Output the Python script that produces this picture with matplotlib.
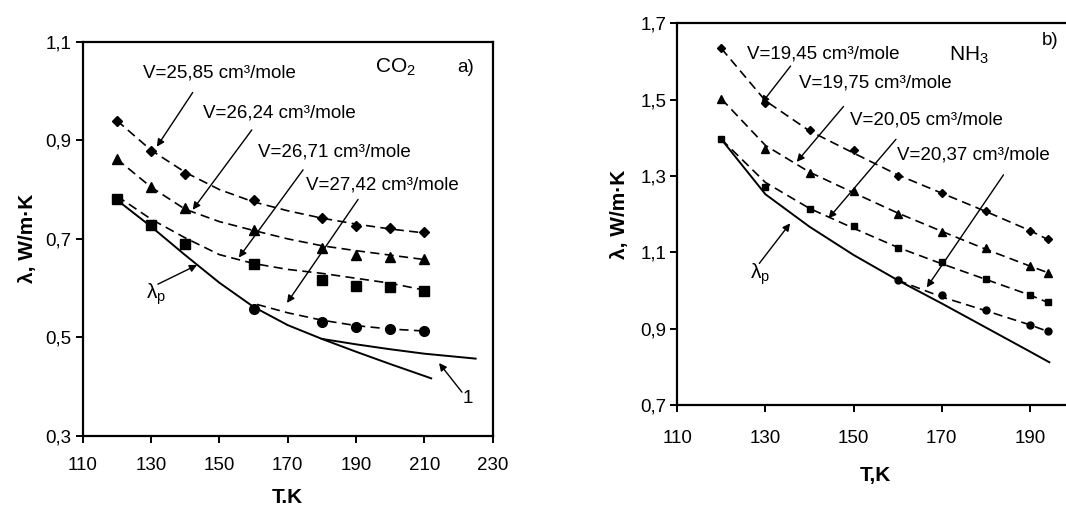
import matplotlib
matplotlib.use("Agg")
import matplotlib.pyplot as plt

plt.rcParams['font.family'] = ['Liberation Sans', 'DejaVu Sans']
plt.rcParams['mathtext.fontset'] = 'custom'
plt.rcParams['mathtext.rm'] = 'Liberation Sans'
plt.rcParams['mathtext.it'] = 'Liberation Sans:italic'

# ---------------- CO2 (panel a) ----------------
T_a = [120, 130, 140, 160, 180, 190, 200, 210]
co2_2585 = [0.940, 0.879, 0.831, 0.779, 0.742, 0.726, 0.721, 0.714]
co2_2624 = [0.863, 0.806, 0.762, 0.718, 0.681, 0.667, 0.664, 0.659]
co2_2671 = [0.780, 0.728, 0.690, 0.648, 0.617, 0.605, 0.602, 0.595]
T_a_c = [160, 180, 190, 200, 210]
co2_2742 = [0.558, 0.532, 0.521, 0.518, 0.513]

Tfit_a = [120, 130, 140, 150, 160, 170, 180, 190, 200, 210]
fit_2585 = [0.940, 0.880, 0.835, 0.800, 0.775, 0.757, 0.742, 0.730, 0.720, 0.712]
fit_2624 = [0.862, 0.805, 0.760, 0.735, 0.717, 0.700, 0.686, 0.676, 0.667, 0.658]
fit_2671 = [0.787, 0.740, 0.702, 0.668, 0.650, 0.638, 0.630, 0.620, 0.610, 0.596]
Tfit_a_c = [161, 170, 180, 190, 200, 210]
fit_2742 = [0.567, 0.550, 0.535, 0.524, 0.517, 0.513]

Tlp_a = [120, 130, 140, 150, 160, 170, 180, 190, 200, 212]
lp_a = [0.779, 0.725, 0.667, 0.611, 0.562, 0.525, 0.497, 0.471, 0.446, 0.417]
T1_a = [180, 190, 200, 210, 225]
line1_a = [0.497, 0.486, 0.476, 0.467, 0.457]

# ---------------- NH3 (panel b) ----------------
T_b = [120, 130, 140, 150, 160, 170, 180, 190, 194]
nh3_1945 = [1.634, 1.492, 1.420, 1.368, 1.301, 1.256, 1.208, 1.157, 1.134]
nh3_1975 = [1.502, 1.370, 1.309, 1.261, 1.200, 1.152, 1.111, 1.065, 1.047]
nh3_2005 = [1.396, 1.272, 1.213, 1.170, 1.111, 1.074, 1.029, 0.988, 0.969]
T_b_c = [160, 170, 180, 190, 194]
nh3_2037 = [1.027, 0.987, 0.949, 0.910, 0.895]

Tfit_b = [120, 130, 140, 150, 160, 170, 180, 190, 194]
fit_1945 = [1.634, 1.497, 1.418, 1.360, 1.303, 1.255, 1.207, 1.157, 1.134]
fit_1975 = [1.502, 1.380, 1.310, 1.256, 1.203, 1.155, 1.108, 1.064, 1.047]
fit_2005 = [1.396, 1.283, 1.215, 1.163, 1.113, 1.070, 1.029, 0.988, 0.969]
Tfit_b_c = [160, 170, 180, 190, 194]
fit_2037 = [1.027, 0.983, 0.947, 0.910, 0.893]

Tlp_b = [120, 130, 140, 150, 160, 170, 180, 190, 194.4]
lp_b = [1.396, 1.252, 1.167, 1.093, 1.027, 0.966, 0.903, 0.840, 0.812]

xt_a = [110, 130, 150, 170, 190, 210, 230]
yt_a = [0.3, 0.5, 0.7, 0.9, 1.1]
yt_a_lbl = ['0,3', '0,5', '0,7', '0,9', '1,1']
xt_b = [110, 130, 150, 170, 190]
yt_b = [0.7, 0.9, 1.1, 1.3, 1.5, 1.7]
yt_b_lbl = ['0,7', '0,9', '1,1', '1,3', '1,5', '1,7']

fig = plt.figure(figsize=(10.66, 5.07), dpi=100)
axA = fig.add_axes([82.7/1066, (507-436)/507, 410/1066, 394.3/507])
axB = fig.add_axes([677.3/1066, (507-405)/507, 90*4.408/1066, 381.7/507])

dash = (0, (5.5, 3.2))
FS = 13.5

def style(ax, xt, yt, ylbl, xlim, ylim, xpad):
    ax.set_xlim(*xlim)
    ax.set_ylim(*ylim)
    ax.set_xticks(xt)
    ax.set_yticks(yt)
    ax.set_yticklabels(ylbl)
    for s in ax.spines.values():
        s.set_linewidth(1.6)
    ax.tick_params(direction='out', length=5, width=1.4, labelsize=FS)
    ax.tick_params(axis='x', pad=xpad)
    ax.tick_params(axis='y', pad=3)

arrow = dict(arrowstyle='-|>', lw=1.0, color='k', mutation_scale=11,
             shrinkA=0, shrinkB=0)

# ---- panel a ----
ax = axA
ax.plot(Tfit_a, fit_2585, color='k', lw=1.2, linestyle=dash)
ax.plot(Tfit_a, fit_2624, color='k', lw=1.2, linestyle=dash)
ax.plot(Tfit_a, fit_2671, color='k', lw=1.2, linestyle=dash)
ax.plot(Tfit_a_c, fit_2742, color='k', lw=1.2, linestyle=dash)
ax.plot(Tlp_a, lp_a, color='k', lw=1.4)
ax.plot(T1_a, line1_a, color='k', lw=1.4)
ax.plot(T_a, co2_2585, 'D', color='k', ms=5.5, ls='none')
ax.plot(T_a, co2_2624, '^', color='k', ms=7, ls='none')
ax.plot(T_a, co2_2671, 's', color='k', ms=6.5, ls='none')
ax.plot(T_a_c, co2_2742, 'o', color='k', ms=7, ls='none')
style(ax, xt_a, yt_a, yt_a_lbl, (110, 230), (0.3, 1.1), 10)
ax.set_xlabel('T.K', fontsize=15, fontweight='bold', labelpad=10)
ax.set_ylabel('λ, W/m·K', fontsize=15, fontweight='bold', labelpad=6)

ax.text(127.6, 1.036, 'V=25,85 cm³/mole', fontsize=FS, va='center', ha='left')
ax.annotate('', xy=(131.7, 0.887), xytext=(142.2, 0.997), arrowprops=arrow)
ax.text(145.2, 0.955, 'V=26,24 cm³/mole', fontsize=FS, va='center', ha='left')
ax.annotate('', xy=(142.2, 0.759), xytext=(159.5, 0.921), arrowprops=arrow)
ax.text(161.3, 0.876, 'V=26,71 cm³/mole', fontsize=FS, va='center', ha='left')
ax.annotate('', xy=(155.7, 0.662), xytext=(174.5, 0.840), arrowprops=arrow)
ax.text(175.3, 0.809, 'V=27,42 cm³/mole', fontsize=FS, va='center', ha='left')
ax.annotate('', xy=(169.8, 0.570), xytext=(190.6, 0.780), arrowprops=arrow)
ax.text(131.5, 0.588, r'$\mathregular{\lambda_p}$', fontsize=15, va='center', ha='center')
ax.annotate('', xy=(143.5, 0.647), xytext=(132.0, 0.608), arrowprops=arrow)
ax.text(222.8, 0.377, '1', fontsize=FS, va='center', ha='center')
ax.annotate('', xy=(214.3, 0.448), xytext=(221.0, 0.389), arrowprops=arrow)
ax.text(195.6, 1.047, r'$\mathregular{CO_2}$', fontsize=15, va='center', ha='left')
ax.text(219.6, 1.047, 'a)', fontsize=FS, va='center', ha='left')

# ---- panel b ----
ax = axB
ax.plot(Tfit_b, fit_1945, color='k', lw=1.2, linestyle=dash)
ax.plot(Tfit_b, fit_1975, color='k', lw=1.2, linestyle=dash)
ax.plot(Tfit_b, fit_2005, color='k', lw=1.2, linestyle=dash)
ax.plot(Tfit_b_c, fit_2037, color='k', lw=1.2, linestyle=dash)
ax.plot(Tlp_b, lp_b, color='k', lw=1.4)
ax.plot(T_b, nh3_1945, 'D', color='k', ms=4.5, ls='none')
ax.plot(T_b, nh3_1975, '^', color='k', ms=6, ls='none')
ax.plot(T_b, nh3_2005, 's', color='k', ms=5, ls='none')
ax.plot(T_b_c, nh3_2037, 'o', color='k', ms=5, ls='none')
style(ax, xt_b, yt_b, yt_b_lbl, (110, 200), (0.7, 1.7), 13)
ax.spines['right'].set_visible(False)
ax.set_xlabel('T,K', fontsize=15, fontweight='bold', labelpad=14)
ax.set_ylabel('λ, W/m·K', fontsize=15, fontweight='bold', labelpad=8)

ax.text(125.7, 1.619, 'V=19,45 cm³/mole', fontsize=FS, va='center', ha='left')
ax.annotate('', xy=(129.1, 1.490), xytext=(135.7, 1.588), arrowprops=arrow)
ax.text(137.5, 1.543, 'V=19,75 cm³/mole', fontsize=FS, va='center', ha='left')
ax.annotate('', xy=(137.1, 1.337), xytext=(147.7, 1.482), arrowprops=arrow)
ax.text(149.2, 1.447, 'V=20,05 cm³/mole', fontsize=FS, va='center', ha='left')
ax.annotate('', xy=(144.3, 1.189), xytext=(159.6, 1.396), arrowprops=arrow)
ax.text(159.9, 1.355, 'V=20,37 cm³/mole', fontsize=FS, va='center', ha='left')
ax.annotate('', xy=(166.6, 1.008), xytext=(184.0, 1.303), arrowprops=arrow)
ax.text(128.8, 1.043, r'$\mathregular{\lambda_p}$', fontsize=15, va='center', ha='center')
ax.annotate('', xy=(135.6, 1.176), xytext=(128.6, 1.071), arrowprops=arrow)
ax.text(171.7, 1.617, r'$\mathregular{NH_3}$', fontsize=15, va='center', ha='left')
ax.text(192.7, 1.656, 'b)', fontsize=FS, va='center', ha='left')

fig.savefig('out.png', dpi=100)
